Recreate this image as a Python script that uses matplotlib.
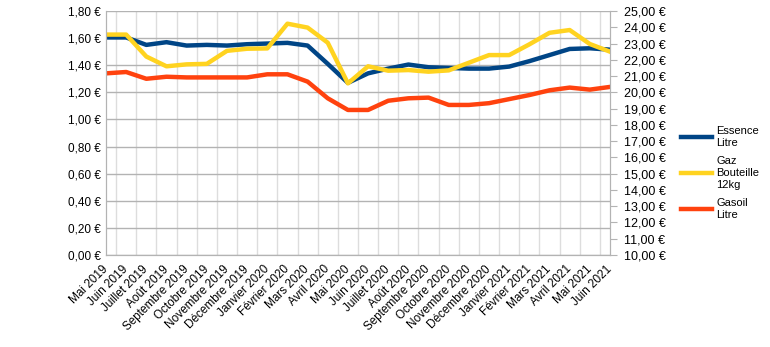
import matplotlib.pyplot as plt
from matplotlib.ticker import FuncFormatter, MultipleLocator

plt.rcParams['font.family'] = ['Liberation Sans', 'DejaVu Sans']

mois = ['Mai 2019', 'Juin 2019', 'Juillet 2019', 'Août 2019', 'Septembre 2019',
        'Octobre 2019', 'Novembre 2019', 'Décembre 2019', 'Janvier 2020',
        'Février 2020', 'Mars 2020', 'Avril 2020', 'Mai 2020', 'Juin 2020',
        'Juillet 2020', 'Août 2020', 'Septembre 2020', 'Octobre 2020',
        'Novembre 2020', 'Décembre 2020', 'Janvier 2021', 'Février 2021',
        'Mars 2021', 'Avril 2021', 'Mai 2021', 'Juin 2021']

# prix au litre (axe de gauche)
essence = [1.605, 1.605, 1.55, 1.57, 1.545, 1.55, 1.545, 1.555, 1.56, 1.565,
           1.545, 1.41, 1.27, 1.34, 1.375, 1.405, 1.385, 1.38, 1.375, 1.375,
           1.39, 1.43, 1.475, 1.52, 1.525, 1.515]
gasoil = [1.34, 1.35, 1.30, 1.315, 1.31, 1.31, 1.31, 1.31, 1.333, 1.333,
          1.279, 1.156, 1.07, 1.07, 1.138, 1.156, 1.161, 1.107, 1.107, 1.12,
          1.15, 1.18, 1.215, 1.235, 1.22, 1.24]
# prix de la bouteille de gaz 12kg (axe de droite)
gaz = [23.55, 23.55, 22.2, 21.6, 21.72, 21.75, 22.55, 22.68, 22.70, 24.22,
       23.98, 23.05, 20.55, 21.6, 21.33, 21.37, 21.27, 21.35, 21.82, 22.29,
       22.29, 22.95, 23.66, 23.83, 22.97, 22.5]

BLEU = '#004586'
JAUNE = '#ffd320'
ROUGE = '#ff420e'
GRIS = '#b3b3b3'


def euro(v, pos):
    return ('%.2f €' % v).replace('.', ',')


fig = plt.figure(figsize=(7.7, 3.47), dpi=100)
ax = fig.add_axes([106 / 770, 1 - 255 / 347, 504 / 770, 244 / 347])
ax2 = ax.twinx()

x = range(len(mois))
l1, = ax.plot(x, essence, color=BLEU, lw=3.2, label='Essence\nLitre')
l3, = ax.plot(x, gasoil, color=ROUGE, lw=3.2, label='Gasoil\nLitre')
l2, = ax2.plot(x, gaz, color=JAUNE, lw=3.2, label='Gaz\nBouteille\n12kg')

ax.set_xlim(0, len(mois) - 1)
ax.set_ylim(0, 1.8)
ax2.set_ylim(10, 25)

ax.yaxis.set_major_locator(MultipleLocator(0.2))
ax.yaxis.set_major_formatter(FuncFormatter(euro))
ax2.yaxis.set_major_locator(MultipleLocator(1))
ax2.yaxis.set_major_formatter(FuncFormatter(euro))

ax.set_xticks(list(x))
ax.set_xticklabels(mois, rotation=45, ha='right', va='center',
                   rotation_mode='anchor', fontsize=8.5)
ax.set_xticks([i + 0.5 for i in range(len(mois) - 1)], minor=True)
ax.tick_params(axis='x', which='both', length=0, pad=9)
ax.tick_params(axis='y', length=0, pad=4, labelsize=8.5)
ax2.tick_params(axis='y', length=5, color=GRIS, pad=5, labelsize=9)

ax.grid(axis='y', which='major', color=GRIS, lw=1)
ax.grid(axis='x', which='minor', color='#dddddd', lw=1)
ax.set_axisbelow(True)

for a in (ax, ax2):
    for s in a.spines.values():
        s.set_color(GRIS)
    a.spines['top'].set_visible(False)

fig.legend([l1, l2, l3], [l1.get_label(), l2.get_label(), l3.get_label()],
           loc='center left', bbox_to_anchor=(671 / 770, 1 - 173 / 347),
           frameon=False, fontsize=8, handlelength=2.8, handletextpad=0.4,
           labelspacing=0.8)

fig.savefig('out.png', dpi=100)
